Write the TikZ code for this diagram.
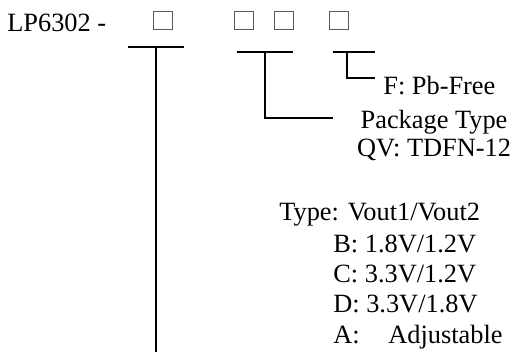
\documentclass[tikz,border=0pt]{standalone}
\usepackage{fontspec}
\setmainfont{Liberation Serif}
\usetikzlibrary{positioning}

\begin{document}
\begin{tikzpicture}[
    x=0.02cm, y=-0.02cm,
    slot/.style={rectangle, draw=black!65, line width=0.5pt, minimum width=0.38cm, minimum height=0.36cm, inner sep=0pt},
    lbl/.style={anchor=base west, inner sep=0pt, font=\fontsize{15}{18}\selectfont},
    bar/.style={line width=1.1pt}
]
\useasboundingbox (0,0) rectangle (513,352);

% part number and option slots
\node[lbl] (part) at (7,31) {LP6302 -};
\node[slot] (slot1) at (162.5,20) {};
\node[slot] (slot2) at (244,20) {};
\node[slot] (slot3) at (284,20) {};
\node[slot] (slot4) at (339,20) {};

% output voltage type
\coordinate (b1l) at (128,47);
\coordinate (b1r) at (184,47);
\coordinate (typetap) at (156,47);
\coordinate (typeend) at (156,352);
\draw[bar] (b1l) -- (b1r);
\draw[bar] (typetap) -- (typeend);

% package type
\coordinate (b2l) at (237,52);
\coordinate (b2r) at (293,52);
\coordinate (pkgtap) at (265,52);
\coordinate (pkgend) at (333,118);
\draw[bar] (b2l) -- (b2r);
\draw[bar] (pkgtap) |- (pkgend);

% lead free
\coordinate (b3l) at (333,52);
\coordinate (b3r) at (375,52);
\coordinate (pbtap) at (347,52);
\coordinate (pbend) at (375,78);
\draw[bar] (b3l) -- (b3r);
\draw[bar] (pbtap) |- (pbend);

\node[lbl] (pbfree) at (383,94) {F: Pb-Free};
\node[lbl, anchor=base] (pkg) at (434,128) {Package Type};
\node[lbl, anchor=base] (qv) at (434,156) {QV: TDFN-12};

\node[lbl] (vtype) at (279,220) {Type: Vout1/Vout2};
\node[lbl] (vb) at (333,252) {B: 1.8V/1.2V};
\node[lbl] (vc) at (333,282) {C: 3.3V/1.2V};
\node[lbl] (vd) at (333,312) {D: 3.3V/1.8V};
\node[lbl] (va) at (333,343) {A:};
\node[lbl] (vadj) at (388,343) {Adjustable};
\end{tikzpicture}
\end{document}
